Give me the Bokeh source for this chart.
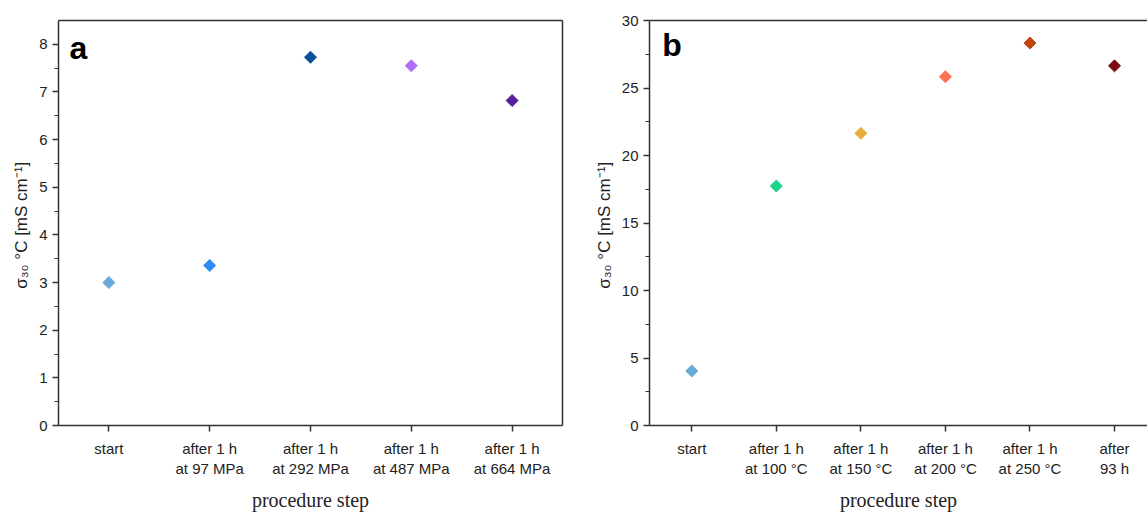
import math
from bokeh.plotting import figure
from bokeh.layouts import row
from bokeh.models import FixedTicker, LinearAxis, Label, Range1d
from bokeh.embed import file_html
from bokeh.resources import INLINE

# ---- data (panel a) ----
cats_a = ["start", "after 1 h\nat 97 MPa", "after 1 h\nat 292 MPa",
          "after 1 h\nat 487 MPa", "after 1 h\nat 664 MPa"]
vals_a = [3.0, 3.36, 7.73, 7.55, 6.82]
cols_a = ["#6aaad8", "#2e8cf5", "#0a4f9a", "#b070f8", "#58209c"]
yticks_a = [0, 1, 2, 3, 4, 5, 6, 7, 8]

# ---- data (panel b) ----
cats_b = ["start", "after 1 h\nat 100 °C", "after 1 h\nat 150 °C",
          "after 1 h\nat 200 °C", "after 1 h\nat 250 °C", "after\n93 h"]
vals_b = [4.04, 17.74, 21.64, 25.83, 28.33, 26.64]
cols_b = ["#6aaad8", "#1ed48b", "#e6ae38", "#ff7254", "#c0440c", "#7a0c18"]
yticks_b = [0, 5, 10, 15, 20, 25, 30]

AX = "#333333"
YLABEL = "σ₃₀ °C  [mS cm⁻¹]"


def style(p, cats, yticks, minor):
    xa = p.xaxis[0]
    ya = p.yaxis[0]
    n = len(cats)
    xa.ticker = FixedTicker(ticks=list(range(n)), minor_ticks=[])
    xa.major_label_overrides = {i: c for i, c in enumerate(cats)}
    ya.ticker = FixedTicker(ticks=yticks, minor_ticks=minor)
    for ax in (xa, ya):
        ax.axis_line_color = AX
        ax.axis_line_width = 1.5
        ax.major_tick_line_color = AX
        ax.major_tick_line_width = 1.5
        ax.minor_tick_line_color = AX
        ax.minor_tick_line_width = 1.2
        ax.major_tick_in = 0
        ax.major_tick_out = 6
        ax.minor_tick_in = 0
        ax.minor_tick_out = 4
        ax.major_label_text_font = "Liberation Sans"
        ax.major_label_text_font_size = "15px"
        ax.major_label_text_color = "#222222"
    xa.major_label_standoff = 8
    ya.major_label_standoff = 5
    xa.axis_label = "procedure step"
    xa.axis_label_text_font = "Liberation Serif"
    xa.axis_label_text_font_style = "normal"
    xa.axis_label_text_font_size = "20px"
    xa.axis_label_text_color = "#222222"
    xa.axis_label_standoff = 9
    ya.axis_label = YLABEL
    ya.axis_label_text_font = "Liberation Sans"
    ya.axis_label_text_font_style = "normal"
    ya.axis_label_text_font_size = "17px"
    ya.axis_label_text_color = "#222222"
    ya.axis_label_standoff = 5
    p.xgrid.visible = False
    p.ygrid.visible = False
    p.outline_line_color = None
    top = LinearAxis(major_tick_line_color=None, minor_tick_line_color=None,
                     major_label_text_font_size="0px", axis_line_color=AX,
                     axis_line_width=1.5, ticker=FixedTicker(ticks=[]))
    p.add_layout(top, "above")


# ---- panel a ----
pa = figure(width=585, height=517, output_backend="svg", toolbar_location=None,
            x_range=Range1d(-0.5, 4.5), y_range=Range1d(0, 8.5),
            min_border_left=58, min_border_right=23, min_border_top=19,
            min_border_bottom=92)
style(pa, cats_a, yticks_a, [0.5 + i for i in range(8)])
right = LinearAxis(major_tick_line_color=None, minor_tick_line_color=None,
                   major_label_text_font_size="0px", axis_line_color=AX,
                   axis_line_width=1.5, ticker=FixedTicker(ticks=[]))
pa.add_layout(right, "right")
pa.scatter(x=list(range(len(vals_a))), y=vals_a, marker="square", angle=math.pi / 4,
           size=8.5, fill_color=cols_a, line_color=cols_a)
pa.add_layout(Label(x=-0.39, y=8.3, text="a", text_font="Liberation Sans",
                    text_font_style="bold", text_font_size="32px",
                    text_baseline="top", text_color="#000000"))

# ---- panel b ----
pb = figure(width=562, height=517, output_backend="svg", toolbar_location=None,
            x_range=Range1d(-0.5, 5.39), y_range=Range1d(0, 30),
            min_border_left=64, min_border_right=0, min_border_top=20,
            min_border_bottom=89)
style(pb, cats_b, yticks_b, [2.5 + 5 * i for i in range(6)])
pb.scatter(x=list(range(len(vals_b))), y=vals_b, marker="square", angle=math.pi / 4,
           size=8.5, fill_color=cols_b, line_color=cols_b)
pb.add_layout(Label(x=-0.35, y=29.5, text="b", text_font="Liberation Sans",
                    text_font_style="bold", text_font_size="32px",
                    text_baseline="top", text_color="#000000"))

layout = row(pa, pb, spacing=0)
open("out.html", "w").write(file_html(layout, INLINE))
